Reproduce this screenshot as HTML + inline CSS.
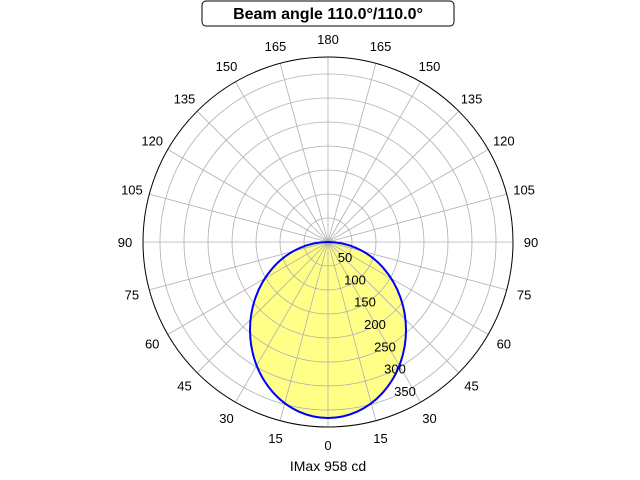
<!DOCTYPE html>
<html><head><meta charset="utf-8"><style>
html,body{margin:0;padding:0;background:#fff;}
svg{display:block;font-family:"Liberation Sans","DejaVu Sans",sans-serif;}
</style></head><body>
<svg id="s" width="640" height="480" viewBox="0 0 640 480" xmlns="http://www.w3.org/2000/svg">
<rect width="640" height="480" fill="#fff"/>
<ellipse cx="328" cy="330" rx="78" ry="88" fill="#ffff88"/>
<g id="grid" stroke="#b0b0b0" stroke-width="0.8" fill="none"></g>
<ellipse cx="328" cy="330" rx="78" ry="88" fill="none" stroke="#0000ff" stroke-width="2"/>
<circle cx="328" cy="242" r="185" fill="none" stroke="#000" stroke-width="1"/>
<g id="lab" font-size="13" fill="#000" text-anchor="middle"></g>
<rect x="202" y="1" width="252" height="25" rx="4" fill="#fff" stroke="#000" stroke-width="1"/>
<text x="328" y="19" font-size="16" font-weight="bold" text-anchor="middle">Beam angle 110.0°/110.0°</text>
<text x="328" y="471" font-size="14" text-anchor="middle">IMax 958 cd</text>
</svg>
<script>
var ns="http://www.w3.org/2000/svg",cx=328,cy=242,R=185,g=document.getElementById('grid'),l=document.getElementById('lab');
function el(p,t,a){var e=document.createElementNS(ns,t);for(var k in a)e.setAttribute(k,a[k]);p.appendChild(e);return e;}
for(var i=1;i<=7;i++)el(g,'circle',{cx:cx,cy:cy,r:i*24});
for(var a=0;a<360;a+=15){var t=a*Math.PI/180;el(g,'line',{x1:cx,y1:cy,x2:cx+R*Math.sin(t),y2:cy+R*Math.cos(t)});}
for(var a=0;a<=180;a+=15){var t=a*Math.PI/180;[1,-1].forEach(function(s){if((a==0||a==180)&&s<0)return;
var x=cx+s*203*Math.sin(t),y=cy+203*Math.cos(t)+5;var e=el(l,'text',{x:x,y:y});e.textContent=a;});}
for(var i=1;i<=7;i++){var r=i*24,dx=17+(r-24)*60/144,dy=15+(r-24)*134/144;var e=el(l,'text',{x:cx+dx,y:cy+dy+5});e.textContent=i*50;}
</script>
</body></html>
